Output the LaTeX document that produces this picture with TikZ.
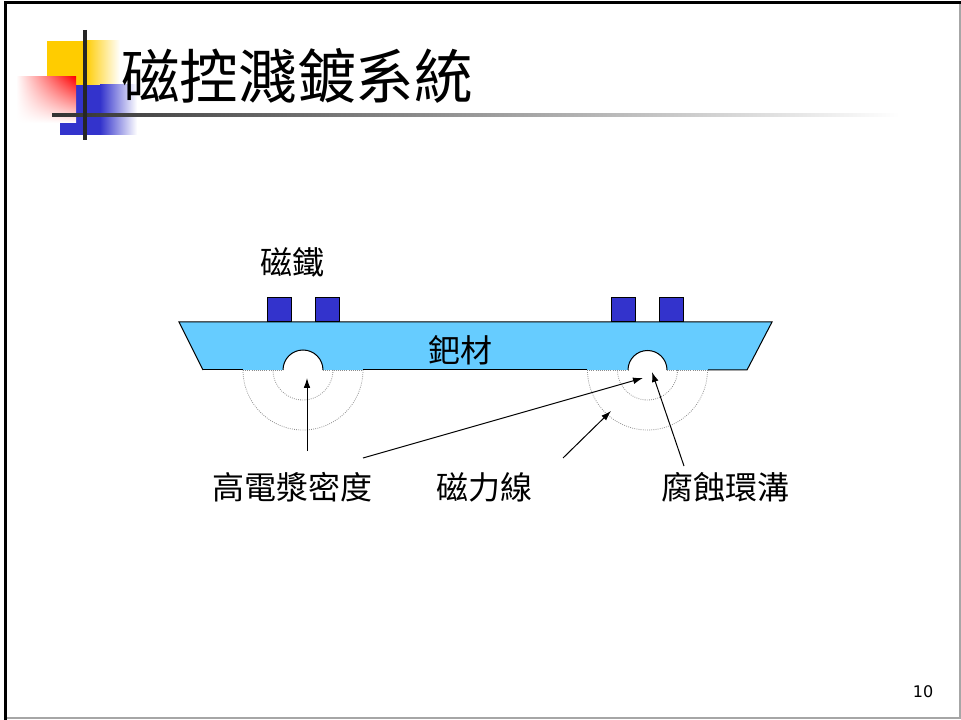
\documentclass[tikz,border=0pt]{standalone}
\usepackage{fontspec}
\newfontfamily\cjk{Noto Sans CJK TC}
\newfontfamily\numfont{DejaVu Sans}
\usetikzlibrary{arrows.meta,calc,shadings}
\definecolor{magblue}{HTML}{3333CC}
\definecolor{tgtblue}{HTML}{66CCFF}
\definecolor{logoyellow}{HTML}{FFCC00}
\tikzset{
  magnet/.style={fill=magblue,draw=black,line width=0.75pt},
  field/.style={black!45,densely dotted,line width=0.6pt},
  pointer/.style={-{Latex[length=7.5pt,width=5pt]},line width=0.75pt},
  lbl/.style={font=\cjk\fontsize{24}{28}\selectfont,inner sep=0pt},
}

\begin{document}
\begin{tikzpicture}[x=0.75pt,y=-0.75pt]
\useasboundingbox (0,0) rectangle (961,720);
\def\rin{30}
\def\rout{60}
% frame
\draw[black!35,line width=1.2pt] (960,3) -- (960,718) -- (5,718);
\draw[line width=2.25pt] (5,720) -- (5,3) -- (961,3);
% logo squares
\fill[logoyellow] (47,41) rectangle (86,106);
\shade[left color=logoyellow,right color=white] (85,41) rectangle (120,106);
\fill[magblue] (60,85) rectangle (101,135);
\shade[left color=magblue,right color=white] (100,85) rectangle (137,135);
\shade[upper right=red,upper left=white,lower left=white,lower right=white] (16,77) rectangle (76,123);
\shade[left color=black!80,right color=white] (52,113.5) rectangle (900,116.5);
\draw[black!85,line width=2.6pt] (85,30) -- (85,140);
\node[anchor=west,font=\cjk\fontsize{44}{50}\selectfont,inner sep=0pt] (title) at (121,76) {磁控濺鍍系統};
% target with two grooves
\coordinate (gL) at (303,370);
\coordinate (gR) at (647.5,370);
\fill[tgtblue] (179,322) -- (772,322) -- (747,370) -- (667,370) arc (0:-180:19.5)
  -- (323,370) arc (0:-180:20) -- (203,370) -- cycle;
\draw[line width=0.75pt] (203,370) -- (179,322) -- (772,322) -- (747,370) -- (708,370);
\draw[line width=0.75pt] (587,370) -- (363,370);
\draw[line width=0.75pt] (243,370) -- (203,370);
\draw[line width=0.75pt] (323,370) arc (0:-180:20);
\draw[line width=0.75pt] (667,370) arc (0:-180:19.5);
% field lines
\draw[field] (243,370) -- (283,370) (323,370) -- (363,370);
\draw[field] (587,370) -- (628,370) (667,370) -- (708,370);
\draw[field] ($(gL)+(\rin,0)$) arc (0:180:\rin);
\draw[field] ($(gL)+(\rout,0)$) arc (0:180:\rout);
\draw[field] ($(gR)+(\rin,0)$) arc (0:180:\rin);
\draw[field] ($(gR)+(\rout,0)$) arc (0:180:\rout);
% magnets
\foreach \x in {267,315,611,659}
  \draw[magnet] (\x,298) rectangle ++(24,24);
% labels
\node[lbl] (mag) at (292,262) {磁鐵};
\node[lbl] (tgt) at (460,350) {鈀材};
\node[lbl] (plasma) at (292,487) {高電漿密度};
\node[lbl] (fieldlbl) at (484,487) {磁力線};
\node[lbl] (groove) at (725,487) {腐蝕環溝};
\node[font=\numfont\fontsize{12}{14}\selectfont,inner sep=0pt] (pg) at (923,692) {10};
% pointers
\coordinate (a1) at (307,451); \coordinate (t1) at (307,378);
\coordinate (a2) at (363,458); \coordinate (t2) at (643,378);
\coordinate (a3) at (563,458); \coordinate (t3) at (611,411);
\coordinate (a4) at (684,466); \coordinate (t4) at (652,372);
\draw[pointer] (a1) -- (t1);
\draw[pointer] (a2) -- (t2);
\draw[pointer] (a3) -- (t3);
\draw[pointer] (a4) -- (t4);
\end{tikzpicture}
\end{document}
